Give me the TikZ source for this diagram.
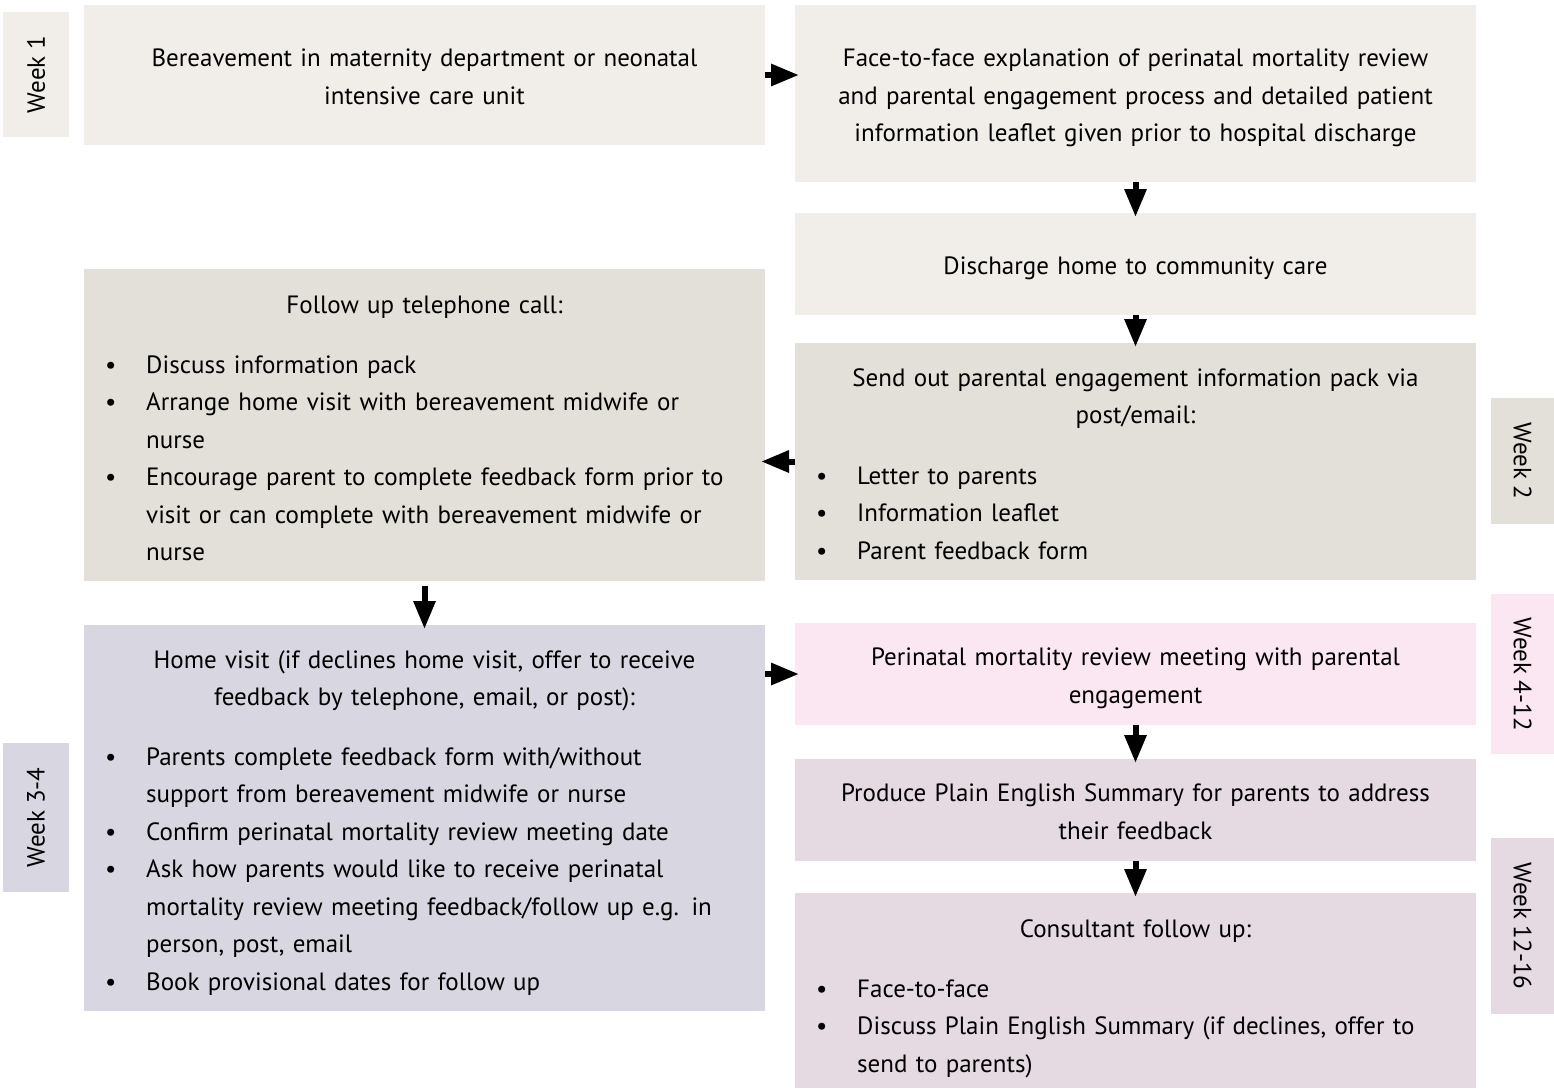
\documentclass[tikz,border=0pt]{standalone}
\usepackage{fontspec}
\setmainfont{PT Sans}
\usetikzlibrary{arrows.meta,calc}

\definecolor{boxA}{HTML}{F1EEEA}
\definecolor{boxB}{HTML}{E3E0D9}
\definecolor{boxC}{HTML}{D8D6E1}
\definecolor{boxD}{HTML}{FBE7F1}
\definecolor{boxE}{HTML}{E5D9E2}

\newcommand{\bul}{\makebox[41pt][l]{\textbullet}}
\newcommand{\cont}{\hspace*{41pt}}

\begin{document}
\begin{tikzpicture}[x=1pt,y=-1pt,
		every node/.style={font=\fontsize{25}{37.5}\selectfont},
		box/.style={anchor=north west,minimum width=681pt,inner sep=0pt,outer sep=0pt,text width=660pt,align=center,execute at begin node={\rule{0pt}{32.25pt}},execute at end node=\strut},
		head/.style={anchor=north,inner sep=0pt,text width=660pt,align=center,execute at begin node=\strut},
		lst/.style={anchor=north west,inner sep=0pt,text width=660pt,align=left,execute at begin node=\strut},
		week/.style={inner sep=0pt,minimum height=66pt},
		arr/.style={line width=6pt,-{Triangle[length=28pt,width=21pt]},shorten >=-4pt}]
		\useasboundingbox (0,0) rectangle (1554,1090);
		% colonne de gauche
		\node[box,fill=boxA,minimum height=140pt] (b1) at (84,5) {Bereavement in maternity department or neonatal\\intensive care unit};
		\node[box,fill=boxB,minimum height=312pt] (b5) at (84,269) {};
		\node[box,fill=boxC,minimum height=386pt] (b6) at (84,625) {};
		% colonne de droite
		\node[box,fill=boxA,minimum height=177pt] (b2) at (795,5) {Face-to-face explanation of perinatal mortality review\\and parental engagement process and detailed patient\\information leaflet given prior to hospital discharge};
		\node[box,fill=boxA,minimum height=102pt] (b3) at (795,213) {Discharge home to community care};
		\node[box,fill=boxB,minimum height=237pt] (b4) at (795,343) {};
		\node[box,fill=boxD,minimum height=102pt] (b7) at (795,623) {Perinatal mortality review meeting with parental\\engagement};
		\node[box,fill=boxE,minimum height=102pt] (b8) at (795,759) {Produce Plain English Summary for parents to address\\their feedback};
		\node[box,fill=boxE,minimum height=195pt] (b9) at (795,893) {};
		% titres et listes
		\node[head] (h4) at ($(b4.north)+(0,17)$) {Send out parental engagement information pack via\\post/email:};
		\node[lst] (l4) at ($(b4.north west)+(21,115)$) {\bul Letter to parents\\\bul Information leaflet\\\bul Parent feedback form};
		\node[head] (h5) at ($(b5.north)+(0,18)$) {Follow up telephone call:};
		\node[lst] (l5) at ($(b5.north west)+(21,78)$) {\bul Discuss information pack\\
			\bul Arrange home visit with bereavement midwife or\\\cont nurse\\
			\bul Encourage parent to complete feedback form prior to\\\cont visit or can complete with bereavement midwife or\\\cont nurse};
		\node[head] (h6) at ($(b6.north)+(0,17)$) {Home visit (if declines home visit, offer to receive\\feedback by telephone, email, or post):};
		\node[lst] (l6) at ($(b6.north west)+(21,114)$) {\bul Parents complete feedback form with/without\\\cont support from bereavement midwife or nurse\\
			\bul Confirm perinatal mortality review meeting date\\
			\bul Ask how parents would like to receive perinatal\\\cont mortality review meeting feedback/follow up e.g. in\\\cont person, post, email\\
			\bul Book provisional dates for follow up};
		\node[head] (h9) at ($(b9.north)+(0,18)$) {Consultant follow up:};
		\node[lst] (l9) at ($(b9.north west)+(21,78)$) {\bul Face-to-face\\
			\bul Discuss Plain English Summary (if declines, offer to\\\cont send to parents)};
		% semaines
		\node[week,fill=boxA,rotate=90,minimum width=125pt] (w1) at (36,74.5) {Week 1};
		\node[week,fill=boxC,rotate=90,minimum width=149pt] (w34) at (36,817.5) {Week 3-4};
		\node[week,fill=boxB,rotate=-90,minimum width=126pt,minimum height=63pt] (w2) at (1522.5,461) {Week 2};
		\node[week,fill=boxD,rotate=-90,minimum width=160pt,minimum height=63pt] (w412) at (1522.5,674) {Week 4-12};
		\node[week,fill=boxE,rotate=-90,minimum width=176pt,minimum height=63pt] (w1216) at (1522.5,926) {Week 12-16};
		% fleches
		\draw[arr] (b1.east) -- (b2.west |- b1.east);
		\draw[arr] (b2.south) -- (b3.north);
		\draw[arr] (b3.south) -- (b4.north);
		\draw[arr] (b4.west) -- (b5.east |- b4.west);
		\draw[arr,shorten <=5pt] (b5.south) -- (b6.north);
		\draw[arr] (b6.east |- b7.west) -- (b7.west);
		\draw[arr] (b7.south) -- (b8.north);
		\draw[arr] (b8.south) -- (b9.north);
	\end{tikzpicture}
\end{document}
